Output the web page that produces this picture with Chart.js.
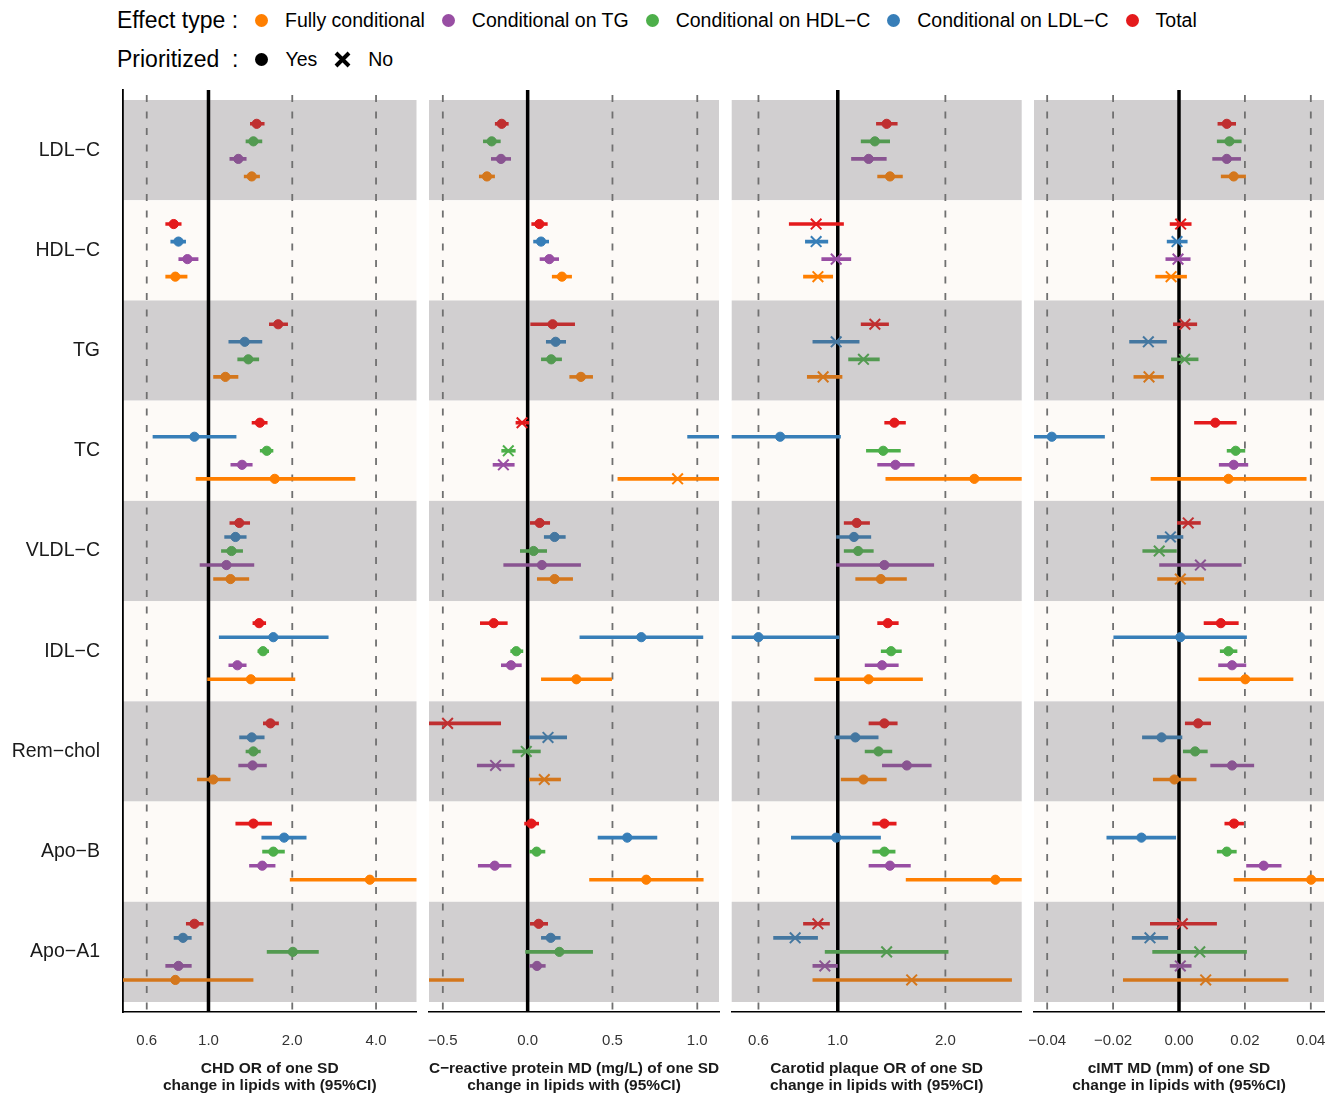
<!DOCTYPE html>
<html>
<head>
<meta charset="utf-8">
<script src="https://cdn.jsdelivr.net/npm/chart.js@4.4.0/dist/chart.umd.min.js"></script>
<style>
  body { margin: 0; background: #fff; width: 1339px; height: 1096px; position: relative; overflow: hidden;
         font-family: "Liberation Sans", Arial, sans-serif; color: #000; }
  canvas { position: absolute; top: 0; }
  .row { position: absolute; left: 117px; display: flex; align-items: center; gap: 17px; height: 30px; white-space: nowrap; }
  .ttl { font-size: 23px; }
  .lab { font-size: 19.5px; }
  .dot { width: 13px; height: 13px; border-radius: 50%; display: inline-block; }
</style>
</head>
<body>
<div class="row" id="leg1" style="top:5px"></div>
<div class="row" id="leg2" style="top:44px"></div>
<canvas id="c1" width="420" height="1096" style="left:0px"></canvas>
<canvas id="c2" width="304" height="1096" style="left:420px"></canvas>
<canvas id="c3" width="304" height="1096" style="left:724px"></canvas>
<canvas id="c4" width="311" height="1096" style="left:1028px"></canvas>
<script>
// rows top to bottom
const lipids = ["LDL−C", "HDL−C", "TG", "TC", "VLDL−C", "IDL−C", "Rem−chol", "Apo−B", "Apo−A1"];
// columns: order inside each lipid band, top to bottom
const effectTypes = ["Total", "Conditional on LDL−C", "Conditional on HDL−C", "Conditional on TG", "Fully conditional"];
const typeColors = ["#e41a1c", "#377eb8", "#4daf4a", "#984ea3", "#ff7f00"];

// CHD OR
const chdTicks = [0.6, 1, 2, 4];
const chdEst = [
  [1.49, null, 1.45, 1.28, 1.43],
  [0.75, 0.78, null, 0.84, 0.76],
  [1.78, 1.35, 1.39, null, 1.15],
  [1.53, 0.89, 1.62, 1.32, 1.73],
  [1.29, 1.25, 1.21, 1.16, 1.20],
  [1.52, 1.71, 1.57, 1.27, 1.42],
  [1.67, 1.43, 1.45, 1.44, 1.04],
  [1.45, 1.87, 1.71, 1.56, 3.80],
  [0.89, 0.81, 2.01, 0.78, 0.76]
];
const chdLo = [
  [1.41, null, 1.36, 1.19, 1.34],
  [0.70, 0.73, null, 0.78, 0.70],
  [1.65, 1.18, 1.27, null, 1.04],
  [1.43, 0.63, 1.53, 1.20, 0.90],
  [1.19, 1.14, 1.11, 0.93, 1.04],
  [1.44, 1.09, 1.50, 1.18, 0.99],
  [1.57, 1.29, 1.36, 1.28, 0.91],
  [1.25, 1.55, 1.56, 1.40, 1.96],
  [0.83, 0.75, 1.62, 0.70, 0.45]
];
const chdHi = [
  [1.59, null, 1.56, 1.37, 1.53],
  [0.80, 0.83, null, 0.92, 0.84],
  [1.93, 1.56, 1.52, null, 1.28],
  [1.63, 1.26, 1.71, 1.44, 3.37],
  [1.41, 1.37, 1.33, 1.46, 1.40],
  [1.61, 2.70, 1.65, 1.37, 2.05],
  [1.79, 1.59, 1.54, 1.62, 1.20],
  [1.69, 2.25, 1.88, 1.74, 6.50],
  [0.96, 0.87, 2.49, 0.87, 1.45]
];
const chdPrior = [1, 1, 1, 1, 1, 1, 1, 1, 1];

// C-reactive protein MD
const crpTicks = [-0.5, 0, 0.5, 1];
const crpEst = [
  [-0.153, null, -0.212, -0.157, -0.240],
  [0.069, 0.079, null, 0.128, 0.202],
  [0.147, 0.165, 0.139, null, 0.314],
  [-0.033, 1.50, -0.114, -0.143, 0.884],
  [0.071, 0.159, 0.035, 0.084, 0.159],
  [-0.200, 0.670, -0.067, -0.098, 0.287],
  [-0.472, 0.120, -0.008, -0.189, 0.098],
  [0.022, 0.587, 0.053, -0.194, 0.699],
  [0.065, 0.136, 0.187, 0.055, -0.80]
];
const crpLo = [
  [-0.193, null, -0.263, -0.216, -0.287],
  [0.022, 0.033, null, 0.071, 0.143],
  [0.016, 0.108, 0.079, null, 0.246],
  [-0.071, 0.941, -0.155, -0.206, 0.530],
  [0.014, 0.096, -0.045, -0.143, 0.055],
  [-0.281, 0.306, -0.102, -0.157, 0.079],
  [-0.70, 0.008, -0.090, -0.299, 0.008],
  [-0.020, 0.413, 0.010, -0.293, 0.363],
  [0.014, 0.079, -0.014, 0.010, -1.20]
];
const crpHi = [
  [-0.112, null, -0.159, -0.098, -0.193],
  [0.118, 0.126, null, 0.185, 0.261],
  [0.279, 0.226, 0.202, null, 0.385],
  [0.008, 2.00, -0.071, -0.077, 1.30],
  [0.132, 0.224, 0.114, 0.314, 0.267],
  [-0.118, 1.035, -0.026, -0.035, 0.497],
  [-0.157, 0.232, 0.077, -0.077, 0.196],
  [0.067, 0.764, 0.104, -0.096, 1.037],
  [0.120, 0.194, 0.385, 0.106, -0.375]
];
const crpPrior = [1, 1, 1, 0, 1, 1, 0, 1, 1];

// Carotid plaque OR
const plaqueTicks = [0.6, 1, 2];
const plaqueEst = [
  [1.37, null, 1.27, 1.22, 1.40],
  [0.87, 0.87, null, 0.99, 0.88],
  [1.27, 0.99, 1.18, null, 0.91],
  [1.44, 0.69, 1.34, 1.45, 2.41],
  [1.13, 1.11, 1.14, 1.35, 1.32],
  [1.38, 0.60, 1.41, 1.33, 1.22],
  [1.35, 1.12, 1.30, 1.56, 1.18],
  [1.35, 0.99, 1.35, 1.40, 2.76],
  [0.88, 0.76, 1.37, 0.92, 1.61]
];
const plaqueLo = [
  [1.28, null, 1.16, 1.09, 1.29],
  [0.73, 0.81, null, 0.90, 0.80],
  [1.16, 0.85, 1.07, null, 0.82],
  [1.35, 0.45, 1.20, 1.29, 1.36],
  [1.04, 0.99, 1.04, 0.99, 1.12],
  [1.29, 0.45, 1.32, 1.19, 0.86],
  [1.22, 0.98, 1.19, 1.33, 1.02],
  [1.25, 0.74, 1.25, 1.22, 1.55],
  [0.80, 0.66, 0.92, 0.85, 0.85]
];
const plaqueHi = [
  [1.47, null, 1.40, 1.37, 1.52],
  [1.04, 0.94, null, 1.09, 0.97],
  [1.39, 1.15, 1.31, null, 1.03],
  [1.55, 1.02, 1.50, 1.64, 3.60],
  [1.23, 1.24, 1.26, 1.86, 1.56],
  [1.48, 1.01, 1.51, 1.48, 1.73],
  [1.47, 1.30, 1.42, 1.83, 1.37],
  [1.46, 1.32, 1.45, 1.60, 4.50],
  [0.95, 0.88, 2.04, 1.00, 3.07]
];
const plaquePrior = [1, 0, 0, 1, 1, 1, 1, 1, 0];

// cIMT MD
const cimtTicks = [-0.04, -0.02, 0, 0.02, 0.04];
const cimtEst = [
  [0.0145, null, 0.0153, 0.0145, 0.0166],
  [0.0005, -0.0006, null, -0.0003, -0.0024],
  [0.0018, -0.0093, 0.0017, null, -0.0091],
  [0.0110, -0.0386, 0.0172, 0.0166, 0.0150],
  [0.0028, -0.0026, -0.0060, 0.0065, 0.0004],
  [0.0127, 0.0004, 0.0150, 0.0161, 0.0201],
  [0.0058, -0.0053, 0.0049, 0.0161, -0.0014],
  [0.0167, -0.0114, 0.0145, 0.0257, 0.0401],
  [0.0010, -0.0088, 0.0063, 0.0004, 0.0081]
];
const cimtLo = [
  [0.0117, null, 0.0115, 0.0101, 0.0127],
  [-0.0028, -0.0037, null, -0.0041, -0.0072],
  [-0.0018, -0.0151, -0.0024, null, -0.0138],
  [0.0046, -0.0550, 0.0145, 0.0121, -0.0086],
  [-0.0006, -0.0067, -0.0111, -0.0060, -0.0066],
  [0.0075, -0.0199, 0.0124, 0.0119, 0.0059],
  [0.0018, -0.0112, 0.0012, 0.0095, -0.0079],
  [0.0138, -0.0220, 0.0115, 0.0204, 0.0166],
  [-0.0088, -0.0143, -0.0081, -0.0028, -0.0170]
];
const cimtHi = [
  [0.0173, null, 0.0190, 0.0188, 0.0203],
  [0.0038, 0.0026, null, 0.0035, 0.0024],
  [0.0055, -0.0037, 0.0059, null, -0.0046],
  [0.0175, -0.0225, 0.0201, 0.0210, 0.0387],
  [0.0066, 0.0013, -0.0007, 0.0190, 0.0076],
  [0.0181, 0.0206, 0.0177, 0.0204, 0.0347],
  [0.0097, 0.0010, 0.0087, 0.0228, 0.0053],
  [0.0197, -0.0009, 0.0175, 0.0311, 0.0650],
  [0.0115, -0.0033, 0.0206, 0.0038, 0.0332]
];
const cimtPrior = [1, 0, 0, 1, 0, 1, 1, 1, 0];

const FONT = '"Liberation Sans", Arial, sans-serif';

// legend (drawn in reverse of band order, like the original)
const leg1 = document.getElementById("leg1");
leg1.innerHTML = '<span class="ttl">Effect type :</span>' +
  effectTypes.map((t, k) => '<span class="dot" style="background:' + typeColors[k] + '"></span><span class="lab">' + t + '</span>')
    .reverse().join("");
document.getElementById("leg2").innerHTML =
  '<span class="ttl">Prioritized&nbsp;&nbsp;:</span>' +
  '<span class="dot" style="background:#000"></span><span class="lab">Yes</span>' +
  '<svg width="17" height="17" viewBox="0 0 17 17"><path d="M2 2L15 15M15 2L2 15" stroke="#000" stroke-width="4"/></svg>' +
  '<span class="lab">No</span>';

// points sitting on the grey bands look darker in the original
function colorFor(k, i) {
  const hex = typeColors[k];
  if (i % 2 === 1) return hex;
  const n = parseInt(hex.slice(1), 16);
  const mix = c => Math.round(c * 0.72 + 100 * 0.28);
  return "rgb(" + mix(n >> 16) + "," + mix((n >> 8) & 255) + "," + mix(n & 255) + ")";
}

// ggplot-style dodge inside each lipid band
function dodge(row, k) {
  const present = row.map(v => v !== null);
  const n = present.filter(Boolean).length;
  const rank = present.slice(0, k).filter(Boolean).length;
  return -0.35 + 0.7 / (2 * n) + rank * 0.7 / n;
}

function fmt(v, dec) {
  return Number(v).toFixed(dec).replace("-", "−");
}

function forestPlugin(p) {
  return {
    id: "forest",
    beforeDraw(chart) {
      const { ctx, chartArea: a, scales: { x, y } } = chart;
      ctx.save();
      lipids.forEach((_, i) => {
        const y0 = y.getPixelForValue(i + 0.5), y1 = y.getPixelForValue(i + 1.5);
        ctx.fillStyle = i % 2 === 0 ? "#d1cfd0" : "#fdfaf7";
        ctx.fillRect(a.left, y0, a.right - a.left, y1 - y0);
      });
      ctx.strokeStyle = "#707070";
      ctx.lineWidth = 1.8;
      ctx.setLineDash([7, 9.5]);
      ctx.lineDashOffset = -5;
      p.ticks.forEach(v => {
        if (v === p.ref) return;
        const px = x.getPixelForValue(v);
        ctx.beginPath();
        ctx.moveTo(px, a.top);
        ctx.lineTo(px, a.bottom);
        ctx.stroke();
      });
      ctx.setLineDash([]);
      ctx.strokeStyle = "#000";
      ctx.lineWidth = 3.5;
      const z = x.getPixelForValue(p.ref);
      ctx.beginPath();
      ctx.moveTo(z, a.top);
      ctx.lineTo(z, a.bottom);
      ctx.stroke();
      ctx.restore();
    },
    beforeDatasetsDraw(chart) {
      const { ctx, chartArea: a, scales: { x, y } } = chart;
      ctx.save();
      ctx.beginPath();
      ctx.rect(a.left, a.top, a.right - a.left, a.bottom - a.top);
      ctx.clip();
      ctx.lineWidth = 3.6;
      p.est.forEach((row, i) => row.forEach((v, k) => {
        if (v === null) return;
        const py = y.getPixelForValue(i + 1 + dodge(row, k));
        ctx.strokeStyle = colorFor(k, i);
        ctx.beginPath();
        ctx.moveTo(x.getPixelForValue(p.lo[i][k]), py);
        ctx.lineTo(x.getPixelForValue(p.hi[i][k]), py);
        ctx.stroke();
      }));
      ctx.restore();
    }
  };
}

function makePanel(p) {
  const datasets = effectTypes.map((name, k) => {
    const pts = [], styles = [], colors = [];
    p.est.forEach((row, i) => {
      if (row[k] === null) return;
      pts.push({ x: row[k], y: i + 1 + dodge(row, k) });
      styles.push(p.prior[i] ? "circle" : "crossRot");
      colors.push(colorFor(k, i));
    });
    return {
      label: name,
      data: pts,
      showLine: false,
      clip: 0,
      pointStyle: styles,
      pointRadius: styles.map(s => s === "circle" ? 4.6 : 7.5),
      pointBorderWidth: styles.map(s => s === "circle" ? 1 : 2),
      pointBackgroundColor: colors,
      pointBorderColor: colors
    };
  });

  const yScale = {
    type: "linear",
    reverse: true,
    min: 0.4,
    max: 9.6,
    display: p.showY,
    afterBuildTicks: s => { s.ticks = lipids.map((_, i) => ({ value: i + 1 })); },
    ticks: {
      callback: v => lipids[v - 1],
      font: { family: FONT, size: 19.5 },
      color: "#1a1a1a",
      padding: 23
    },
    grid: { display: false, drawTicks: false },
    border: { display: true, color: "#000", width: 1.8 }
  };
  if (p.showY) yScale.afterFit = s => { s.width = 123; s.paddingTop = 0; s.paddingBottom = 0; };

  new Chart(document.getElementById(p.id), {
    type: "scatter",
    data: { datasets },
    plugins: [forestPlugin(p)],
    options: {
      responsive: false,
      animation: false,
      events: [],
      layout: { autoPadding: false, padding: { left: p.padLeft, right: p.padRight, top: 90, bottom: 0 } },
      plugins: { legend: { display: false }, tooltip: { enabled: false } },
      scales: {
        x: {
          type: p.type,
          min: p.min,
          max: p.max,
          afterFit: s => { s.height = 84; s.paddingLeft = 0; s.paddingRight = 0; },
          afterBuildTicks: s => { s.ticks = p.ticks.map(v => ({ value: v })); },
          ticks: {
            callback: v => fmt(v, p.dec),
            font: { family: FONT, size: 15 },
            color: "#333",
            padding: 20,
            maxRotation: 0,
            autoSkip: false
          },
          grid: { display: false, drawTicks: false },
          border: { display: true, color: "#000", width: 1.6 },
          title: {
            display: true,
            text: p.title,
            font: { family: FONT, size: 15.5, weight: "bold", lineHeight: 1.1 },
            color: "#1a1a1a",
            padding: { top: 0, bottom: 2 }
          }
        },
        y: yScale
      }
    }
  });
}

makePanel({
  id: "c1", type: "logarithmic", min: 0.493, max: 5.59, ref: 1, dec: 1,
  ticks: chdTicks, est: chdEst, lo: chdLo, hi: chdHi, prior: chdPrior,
  showY: true, padLeft: 0, padRight: 3.5,
  title: ["CHD OR of one SD", "change in lipids with (95%CI)"]
});
makePanel({
  id: "c2", type: "linear", min: -0.5815, max: 1.128, ref: 0, dec: 1,
  ticks: crpTicks, est: crpEst, lo: crpLo, hi: crpHi, prior: crpPrior,
  showY: false, padLeft: 9, padRight: 5,
  title: ["C−reactive protein MD (mg/L) of one SD", "change in lipids with (95%CI)"]
});
makePanel({
  id: "c3", type: "logarithmic", min: 0.505, max: 3.27, ref: 1, dec: 1,
  ticks: plaqueTicks, est: plaqueEst, lo: plaqueLo, hi: plaqueHi, prior: plaquePrior,
  showY: false, padLeft: 7.7, padRight: 6.3,
  title: ["Carotid plaque OR of one SD", "change in lipids with (95%CI)"]
});
makePanel({
  id: "c4", type: "linear", min: -0.044, max: 0.044, ref: 0, dec: 2,
  ticks: cimtTicks, est: cimtEst, lo: cimtLo, hi: cimtHi, prior: cimtPrior,
  showY: false, padLeft: 6, padRight: 15,
  title: ["cIMT MD (mm) of one SD", "change in lipids with (95%CI)"]
});
</script>
</body>
</html>
